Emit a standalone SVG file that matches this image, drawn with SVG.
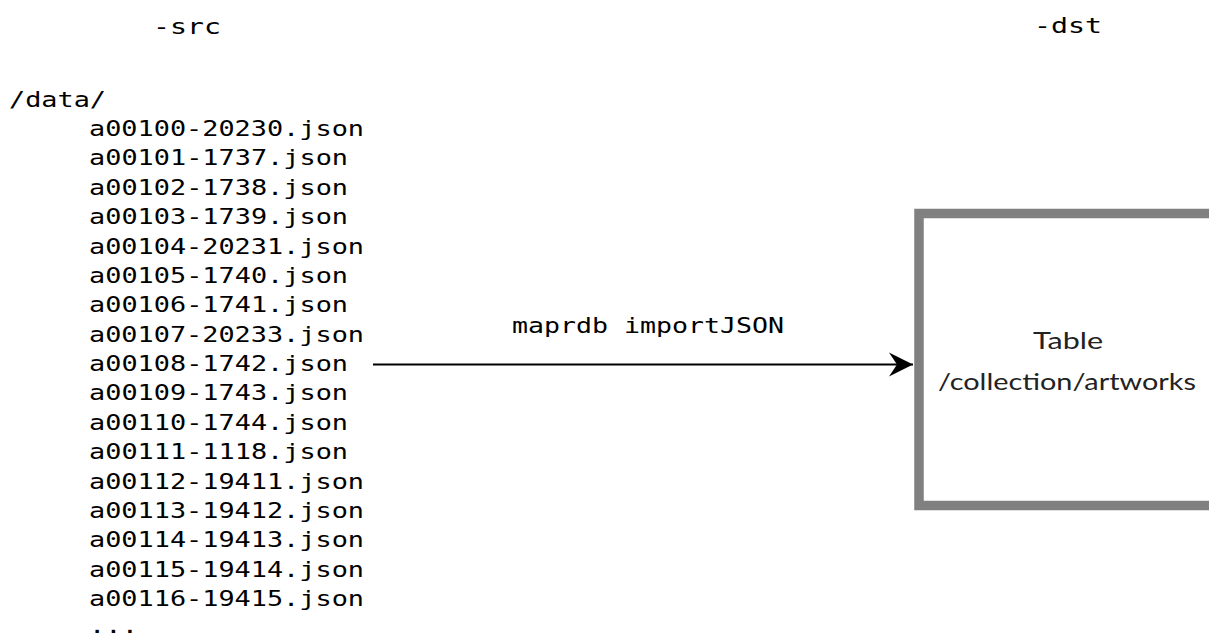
<svg xmlns="http://www.w3.org/2000/svg" width="1209" height="636" viewBox="0 0 1209 636">
  <style>
    .mono { font-family: "DejaVu Sans Mono", "Liberation Mono", monospace; font-size: 22px; fill: #000; }
    .sans { font-family: Lato, "Noto Sans", sans-serif; font-size: 23px; fill: #222; }
    .edge { stroke: #000; stroke-width: 2; fill: none; }
  </style>
  <defs>
    <marker id="arrow" markerUnits="userSpaceOnUse" markerWidth="30" markerHeight="30" refX="24" refY="12" orient="auto" viewBox="0 0 30 24">
      <path d="M0,0 L24,12 L0,24 L8,12 Z" fill="#000"/>
    </marker>
  </defs>
  <rect width="1209" height="636" fill="#fff"/>

  <g id="src-header">
    <text class="mono" x="187" y="34" text-anchor="middle" textLength="68" lengthAdjust="spacingAndGlyphs">-src</text>
  </g>
  <g id="dst-header">
    <text class="mono" x="1068" y="33" text-anchor="middle" textLength="68" lengthAdjust="spacingAndGlyphs">-dst</text>
  </g>

  <g id="source-files">
    <text class="mono" x="9" y="107" textLength="97" lengthAdjust="spacingAndGlyphs">/data/</text>
    <text class="mono" x="89" y="136" textLength="275" lengthAdjust="spacingAndGlyphs">a00100-20230.json</text>
    <text class="mono" x="89" y="165.4" textLength="259" lengthAdjust="spacingAndGlyphs">a00101-1737.json</text>
    <text class="mono" x="89" y="194.8" textLength="259" lengthAdjust="spacingAndGlyphs">a00102-1738.json</text>
    <text class="mono" x="89" y="224.1" textLength="259" lengthAdjust="spacingAndGlyphs">a00103-1739.json</text>
    <text class="mono" x="89" y="253.5" textLength="275" lengthAdjust="spacingAndGlyphs">a00104-20231.json</text>
    <text class="mono" x="89" y="282.9" textLength="259" lengthAdjust="spacingAndGlyphs">a00105-1740.json</text>
    <text class="mono" x="89" y="312.3" textLength="259" lengthAdjust="spacingAndGlyphs">a00106-1741.json</text>
    <text class="mono" x="89" y="341.6" textLength="275" lengthAdjust="spacingAndGlyphs">a00107-20233.json</text>
    <text class="mono" x="89" y="371" textLength="259" lengthAdjust="spacingAndGlyphs">a00108-1742.json</text>
    <text class="mono" x="89" y="400.4" textLength="259" lengthAdjust="spacingAndGlyphs">a00109-1743.json</text>
    <text class="mono" x="89" y="429.8" textLength="259" lengthAdjust="spacingAndGlyphs">a00110-1744.json</text>
    <text class="mono" x="89" y="459.1" textLength="259" lengthAdjust="spacingAndGlyphs">a00111-1118.json</text>
    <text class="mono" x="89" y="488.5" textLength="275" lengthAdjust="spacingAndGlyphs">a00112-19411.json</text>
    <text class="mono" x="89" y="517.9" textLength="275" lengthAdjust="spacingAndGlyphs">a00113-19412.json</text>
    <text class="mono" x="89" y="547.3" textLength="275" lengthAdjust="spacingAndGlyphs">a00114-19413.json</text>
    <text class="mono" x="89" y="576.6" textLength="275" lengthAdjust="spacingAndGlyphs">a00115-19414.json</text>
    <text class="mono" x="89" y="606" textLength="275" lengthAdjust="spacingAndGlyphs">a00116-19415.json</text>
    <text class="mono" x="89" y="633" textLength="49" lengthAdjust="spacingAndGlyphs">...</text>
  </g>

  <g id="table-node">
    <rect x="919" y="213.5" width="400" height="292" fill="#fff" stroke="#808080" stroke-width="9.5"/>
    <text class="sans" x="1068" y="349" text-anchor="middle" textLength="70" lengthAdjust="spacingAndGlyphs">Table</text>
    <text class="sans" x="1067" y="390" text-anchor="middle" textLength="258" lengthAdjust="spacingAndGlyphs">/collection/artworks</text>
  </g>

  <g id="connectors">
    <line class="edge" x1="373" y1="364.5" x2="913" y2="364.5" marker-end="url(#arrow)"/>
    <text class="mono" x="648" y="333" text-anchor="middle" textLength="272" lengthAdjust="spacingAndGlyphs">maprdb importJSON</text>
  </g>
</svg>
